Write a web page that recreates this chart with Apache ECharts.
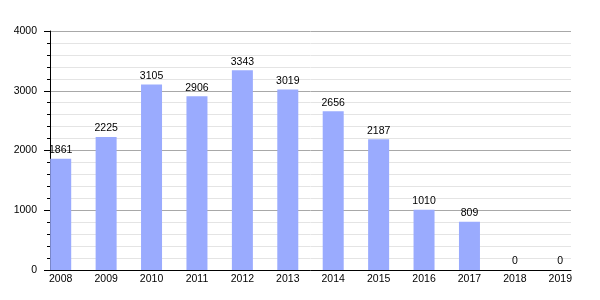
<!DOCTYPE html>
<html><head><meta charset="utf-8">
<script src="https://cdn.jsdelivr.net/npm/echarts@6/dist/echarts.min.js"></script>
<style>html,body{margin:0;padding:0;background:#fff}#c{width:600px;height:300px}</style>
</head><body><div id="c"></div>
<script>
const years = ['2008','2009','2010','2011','2012','2013','2014','2015','2016','2017','2018','2019'];
const counts = [1861,2225,3105,2906,3343,3019,2656,2187,1010,809,0,0];
const yTicks = {min:0, max:4000, interval:1000};

const font = 'Liberation Sans, Arial, sans-serif';
const chart = echarts.init(document.getElementById('c'), null, {renderer:'canvas'});
chart.setOption({
  animation:false,
  grid:[
    {left:50, right:29, top:31, bottom:30},
    {left:38, right:17, top:31, bottom:30}
  ],
  xAxis:[
    {gridIndex:0, type:'category', data:years, boundaryGap:true,
      axisLine:{show:true, lineStyle:{color:'#000', width:1}}, axisTick:{show:false}, axisLabel:{show:false}},
    {gridIndex:1, type:'category', data:years,
      axisLine:{show:false}, axisTick:{show:false},
      axisLabel:{color:'#000', fontSize:10.5, fontFamily:font, margin:4}}
  ],
  yAxis:[
    {gridIndex:0, type:'value', min:yTicks.min, max:yTicks.max, interval:yTicks.interval,
      axisLine:{show:true, lineStyle:{color:'#000', width:1}},
      axisTick:{show:true, length:6, lineStyle:{color:'#000'}},
      minorTick:{show:true, splitNumber:5, length:3, lineStyle:{color:'#000'}},
      splitLine:{show:true, lineStyle:{color:'#a8a8a8', width:1}},
      minorSplitLine:{show:true, lineStyle:{color:'#e4e4e4', width:1}},
      axisLabel:{color:'#000', fontSize:10.5, fontFamily:font, margin:13, formatter: v => String(v)}},
    {gridIndex:1, type:'value', min:yTicks.min, max:yTicks.max, interval:yTicks.interval, show:false,
      splitLine:{show:false}}
  ],
  series:[{
    type:'bar', xAxisIndex:1, yAxisIndex:1, data:counts, barWidth:21,
    itemStyle:{color:'#9aabfe'},
    label:{show:true, position:'top', distance:3, color:'#000', fontSize:10.5, fontFamily:font}
  }]
});
</script></body></html>
